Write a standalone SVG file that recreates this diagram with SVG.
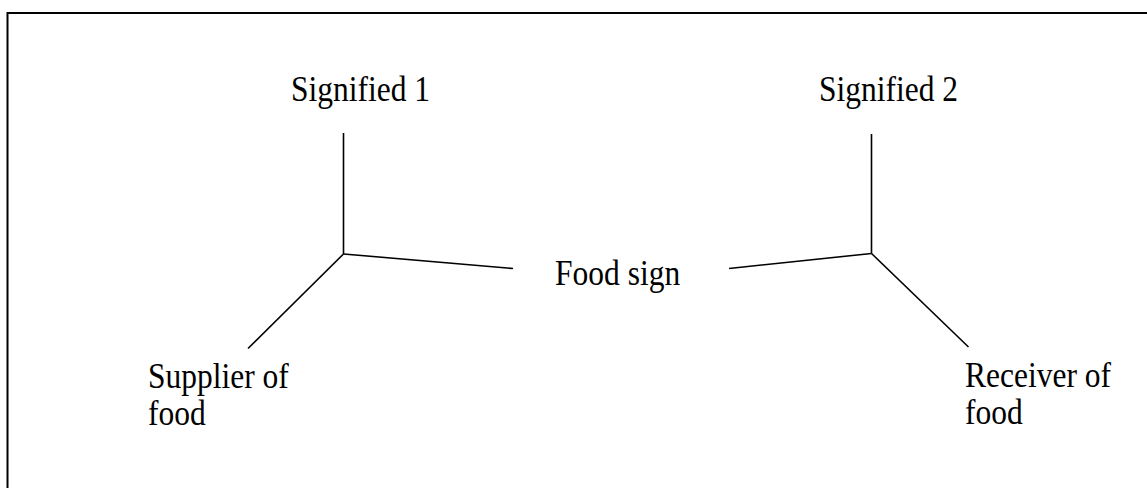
<svg xmlns="http://www.w3.org/2000/svg" width="1147" height="488" viewBox="0 0 1147 488">
  <style>
    .frame { fill: none; stroke: #000; stroke-width: 2; }
    .link { fill: none; stroke: #000; stroke-width: 1.6; stroke-linecap: butt; }
    .lbl { font-family: "Liberation Serif", "Times New Roman", serif; font-size: 31.5px; fill: #000; }
  </style>
  <rect width="1147" height="488" fill="#fff"/>
  <!-- open frame: left and top edges -->
  <path class="frame" d="M7.5,488 V13 H1147"/>

  <g id="connectors">
    <line class="link" x1="343.5" y1="133" x2="343.5" y2="254"/>
    <line class="link" x1="343.5" y1="254" x2="513" y2="268.5"/>
    <line class="link" x1="343.5" y1="254" x2="248" y2="348.5"/>
    <line class="link" x1="871.5" y1="134" x2="871.5" y2="253.5"/>
    <line class="link" x1="871.5" y1="253.5" x2="729" y2="268.5"/>
    <line class="link" x1="871.5" y1="253.5" x2="968.5" y2="347"/>
  </g>

  <!-- labels: serif type, drawn slightly tall -->
  <g id="signified1"><text class="lbl" transform="translate(291,101) scale(1,1.15)">Signified 1</text></g>
  <g id="signified2"><text class="lbl" transform="translate(819,101) scale(1,1.15)">Signified 2</text></g>
  <g id="foodsign"><text class="lbl" transform="translate(555,285) scale(1,1.15)">Food sign</text></g>
  <g id="supplier">
    <text class="lbl" transform="translate(148,388) scale(1,1.15)">Supplier of</text>
    <text class="lbl" transform="translate(148,425) scale(1,1.15)">food</text>
  </g>
  <g id="receiver">
    <text class="lbl" transform="translate(965,387) scale(1,1.15)">Receiver of</text>
    <text class="lbl" transform="translate(965,424) scale(1,1.15)">food</text>
  </g>
</svg>
